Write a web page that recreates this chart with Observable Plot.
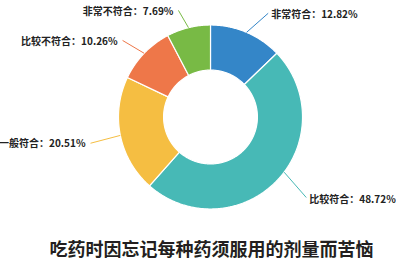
<!DOCTYPE html>
<html><head><meta charset="utf-8">
<script src="https://cdn.jsdelivr.net/npm/d3@7"></script>
<script src="https://cdn.jsdelivr.net/npm/@observablehq/plot@0.6"></script>
<style>body{margin:0;background:#fff;} svg{display:block}</style>
</head><body><div id="chart"></div>
<script>
// ---- data ----
const categories = ["非常符合", "比较符合", "一般符合", "比较不符合", "非常不符合"];
const values = [12.82, 48.72, 20.51, 10.26, 7.69];
const title = "吃药时因忘记每种药须服用的剂量而苦恼";

// ---- styles / layout ----
const colors = ["#3486c8", "#47b9b6", "#f5be42", "#ee7749", "#78ba45"];
const innerRatio = 0.51;
// leader layout per slice: [start angle nudge (deg), end angle nudge (deg), end radius factor]
const leaderLayout = [[0, 6, 1.29], [-7, -3.8, 1.36], [0, -0.8, 1.335], [0, -2.8, 1.267], [0, -2.9, 1.21]];

const total = d3.sum(values);
const rad = Math.PI / 180;
let acc = 0;
const slices = categories.map((name, i) => {
  const a0 = acc / total * 2 * Math.PI;
  acc += values[i];
  const a1 = acc / total * 2 * Math.PI;
  return {name, value: values[i], a0, a1, mid: (a0 + a1) / 2};
});

// ring polygons (outer arc then inner arc back)
const polys = [];
for (const s of slices) {
  const n = Math.max(4, Math.ceil((s.a1 - s.a0) / (0.5 * rad)));
  for (let k = 0; k <= n; k++) {
    const a = s.a0 + (s.a1 - s.a0) * k / n;
    polys.push({name: s.name, x: Math.sin(a), y: Math.cos(a)});
  }
  for (let k = n; k >= 0; k--) {
    const a = s.a0 + (s.a1 - s.a0) * k / n;
    polys.push({name: s.name, x: innerRatio * Math.sin(a), y: innerRatio * Math.cos(a)});
  }
}

// leader lines and labels
const leaders = slices.map((s, i) => {
  const [sn, en, er] = leaderLayout[i];
  const as = s.mid + sn * rad, ae = s.mid + en * rad;
  return {
    name: s.name,
    x1: Math.sin(as), y1: Math.cos(as),
    x2: er * Math.sin(ae), y2: er * Math.cos(ae),
    right: s.mid < Math.PI,
    label: `${s.name}：${s.value.toFixed(2)}%`
  };
});

const font = "'Noto Sans CJK SC', 'Noto Sans', sans-serif";
const chart = Plot.plot({
  width: 396,
  height: 262,
  margin: 0,
  x: {domain: [-1, 1], range: [118, 302], axis: null},
  y: {domain: [-1, 1], range: [208.5, 24.5], axis: null},
  color: {domain: categories, range: colors},
  style: {fontFamily: font, background: "#fff"},
  marks: [
    Plot.line(polys, {x: "x", y: "y", z: "name", fill: "name", stroke: "#fff", strokeWidth: 1.2, curve: "linear-closed"}),
    Plot.link(leaders, {x1: "x1", y1: "y1", x2: "x2", y2: "y2", stroke: "name", strokeWidth: 1}),
    Plot.text(leaders.filter(d => d.right), {x: "x2", y: "y2", text: "label", textAnchor: "start", dx: 3, dy: 2, fontSize: 10, fontWeight: "bold", fill: "#222"}),
    Plot.text(leaders.filter(d => !d.right), {x: "x2", y: "y2", text: "label", textAnchor: "end", dx: -5, dy: 1, fontSize: 10, fontWeight: "bold", fill: "#222"}),
    Plot.text([title], {frameAnchor: "bottom", text: d => d, dx: 13, dy: -12, lineAnchor: "middle", fontSize: 18, fontWeight: "bold", fill: "#231f20"})
  ]
});
document.getElementById("chart").appendChild(chart);
</script>
</body></html>
